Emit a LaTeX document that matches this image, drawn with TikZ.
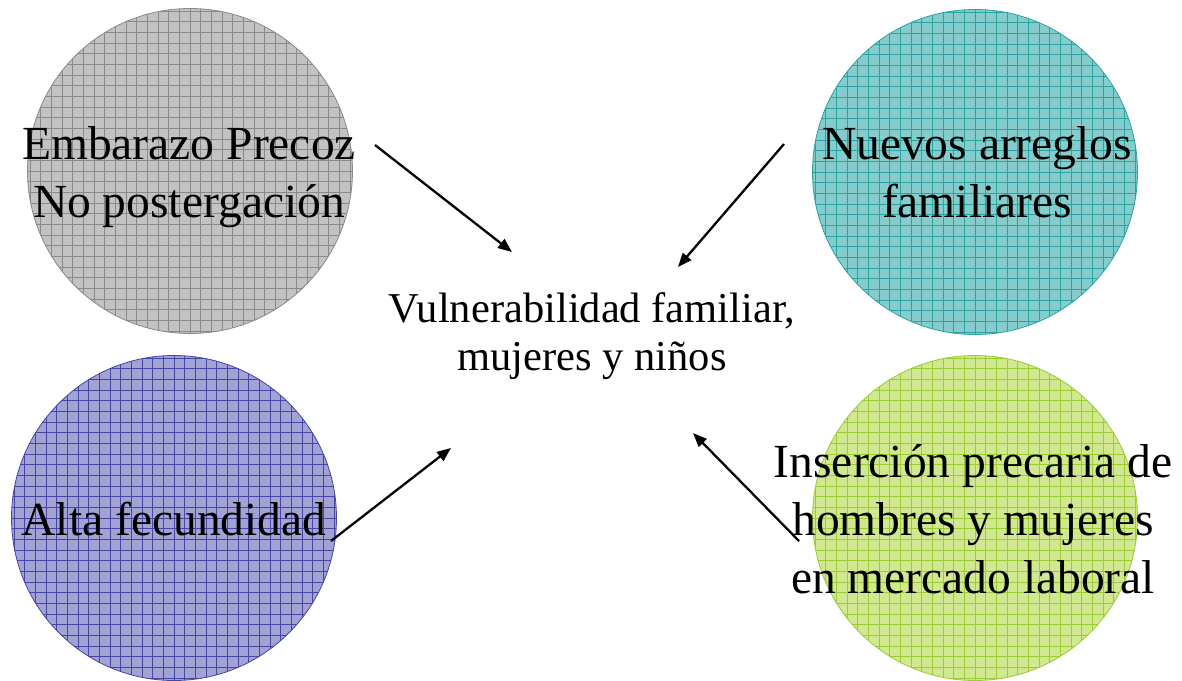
\documentclass[tikz,border=0pt]{standalone}
\usepackage{fontspec}
\setmainfont{Liberation Serif}
\usetikzlibrary{arrows.meta}
\definecolor{grayF}{HTML}{C2C2C2}
\definecolor{grayL}{HTML}{8A8A8A}
\definecolor{tealF}{HTML}{86CCCC}
\definecolor{tealL}{HTML}{2AA3A3}
\definecolor{blueF}{HTML}{A2A2D4}
\definecolor{blueL}{HTML}{4646A6}
\definecolor{greenF}{HTML}{D2E890}
\definecolor{greenL}{HTML}{9ACD35}
\tikzset{
  blob/.style 2 args={circle, inner sep=0pt, minimum size=325pt, draw=#2, line width=0.8pt, fill=#1,
    path picture={\draw[#2, line width=0.55pt, step=10.67pt]
      ([xshift=-6pt,yshift=-6pt]path picture bounding box.south west) grid
      ([xshift=6pt,yshift=6pt]path picture bounding box.north east);}},
  bigtxt/.style={align=center, inner sep=0pt, font=\fontsize{47.5}{58}\selectfont},
  midtxt/.style={align=center, inner sep=0pt, font=\fontsize{42.5}{48}\selectfont},
  conn/.style={line width=2.3pt, -{Triangle[length=14pt,width=11pt]}}
}
\begin{document}
\begin{tikzpicture}[x=1pt,y=-1pt]
\useasboundingbox[fill=white] (0,0) rectangle (1182,680);
\node[blob={grayF}{grayL}] (cg) at (190,171) {};
\node[blob={tealF}{tealL}] (ct) at (975,172) {};
\node[blob={blueF}{blueL}] (cb) at (174,518) {};
\node[blob={greenF}{greenL}] (cn) at (975,518) {};

\node[bigtxt, anchor=base] (tg) at (189,217) {Embarazo Precoz\\No postergación};
\node[bigtxt, anchor=base] (tt) at (977,217) {Nuevos arreglos\\familiares};
\node[bigtxt, anchor=base] (tb) at (174,535) {Alta fecundidad};
\node[bigtxt, anchor=base] (tn) at (973,593) {Inserción precaria de\\hombres y mujeres\\en mercado laboral};
\node[midtxt, anchor=base] (tc) at (592,370) {Vulnerabilidad familiar,\\mujeres y niños};

\coordinate (a1s) at (375,145); \coordinate (a1e) at (512,252);
\coordinate (a2s) at (784,144); \coordinate (a2e) at (678,267);
\coordinate (a3s) at (331,541); \coordinate (a3e) at (451,448);
\coordinate (a4s) at (799,541); \coordinate (a4e) at (693,433);
\draw[conn] (a1s) -- (a1e);
\draw[conn] (a2s) -- (a2e);
\draw[conn] (a3s) -- (a3e);
\draw[conn] (a4s) -- (a4e);
\end{tikzpicture}
\end{document}
